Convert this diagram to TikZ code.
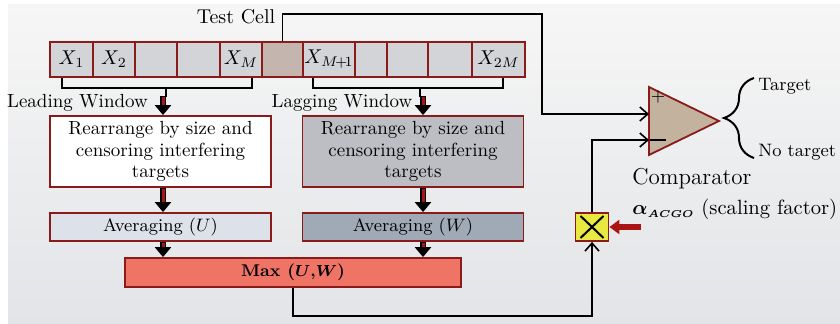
\documentclass[tikz,border=0pt]{standalone}
\usepackage{amsmath}
\usepackage{xcolor}
\usepackage{tikz}
\usetikzlibrary{arrows.meta}
\usetikzlibrary{decorations.pathreplacing}
\definecolor{dunkelrot}{RGB}{139,26,26}
\definecolor{pfeilrot}{RGB}{170,20,20}
\definecolor{zellgrau}{RGB}{210,212,216}
\definecolor{testgrau}{RGB}{196,181,175}
\definecolor{sortgrau}{RGB}{189,190,195}
\definecolor{avghell}{RGB}{221,225,234}
\definecolor{avgdunkel}{RGB}{159,170,182}
\definecolor{lachs}{RGB}{240,116,102}
\definecolor{sand}{RGB}{195,178,158}
\definecolor{gelb}{RGB}{232,232,64}
\definecolor{hgoben}{RGB}{246,246,246}
\definecolor{hgunten}{RGB}{226,228,231}
\tikzset{
  zelle/.style={draw=dunkelrot, line width=0.8pt, minimum height=17.5pt, inner sep=0pt,
    font=\fontsize{10}{12}\selectfont}, % Speicherzellen
  block/.style={draw=dunkelrot, line width=0.9pt, align=center, inner sep=0pt, minimum width=110.5pt,
    font=\fontsize{9.5}{10.8}\selectfont},
  leitung/.style={line width=0.8pt, black},
  pfeil/.style={leitung, ->},
  dickpfeil/.style={line width=3pt, black, -{Triangle[length=5pt,width=8pt]},
    postaction={draw=pfeilrot, line width=1.5pt, -, shorten >=5pt, shorten <=0.7pt}}, % roter Blockpfeil
  skalpfeil/.style={line width=2.6pt, pfeilrot, -{Triangle[length=5pt,width=7pt]}},
  mult/.style={draw=dunkelrot, fill=gelb, line width=0.9pt, minimum width=16.5pt, minimum height=14pt, inner sep=0pt,
    path picture={
      \draw[black, line width=1pt] ([shift={(2.5pt,-1.5pt)}]path picture bounding box.north west) -- ([shift={(-2.5pt,1.5pt)}]path picture bounding box.south east);
      \draw[black, line width=1pt] ([shift={(2.5pt,1.5pt)}]path picture bounding box.south west) -- ([shift={(-2.5pt,-1.5pt)}]path picture bounding box.north east);
    }}
}

\begin{document}
\begin{tikzpicture}[x=0.5pt, y=-0.5pt,
font=\fontsize{9.5}{11}\selectfont,
>={Straight Barb[length=4pt,width=7pt]} % Voreinstellung für Pfeilspitzen
]
\useasboundingbox (0,0) rectangle (840,324);

%Hintergrund
\fill[top color=hgoben, bottom color=hgunten] (8,5) rectangle (840,324);

%Zellen
\foreach \n/\l/\r/\f/\t in {1/50/93/zellgrau/{$X_1$}, 2/93/135/zellgrau/{$X_2$}, 3/135/177/zellgrau/{},
  4/177/220/zellgrau/{}, 5/220/262/zellgrau/{$X_M$}, 6/262/303/testgrau/{}, 7/303/355/zellgrau/{$X_{M\!+\!1}$},
  8/355/387/zellgrau/{}, 9/387/428/zellgrau/{}, 10/428/472/zellgrau/{}, 11/472/525/zellgrau/{$X_{2M}$}}
  \node[zelle, fill=\f, minimum width={(\r-\l)*0.5pt}] (c\n) at ({(\l+\r)/2},59.5) {\t};

\node (testzelle) at (236,17) {\normalsize Test Cell};
\node (leading) at (77.5,103) {Leading Window};
\node (lagging) at (342,103) {Lagging Window};

%Bloecke
\node[block, fill=white, minimum height=35.5pt] (sortL) at (160.5,151.5)
  {Rearrange by size and\\censoring interfering\\targets};
\node[block, fill=sortgrau, minimum height=35.5pt] (sortR) at (413,151.5)
  {Rearrange by size and\\censoring interfering\\targets};
\node[block, fill=avghell, minimum height=14pt, font=\small] (mittelL) at (160.5,227) {Averaging ($U$)};
\node[block, fill=avgdunkel, minimum height=14pt, font=\small] (mittelR) at (413,227) {Averaging ($W$)};
\node[block, fill=lachs, minimum width=168pt, minimum height=14.5pt, font=\fontsize{8.5}{10}\selectfont\bfseries] (max)
  at (293,272.5) {Max ($\boldsymbol{U{,}W}$)};

%Komparator
\draw[draw=dunkelrot, fill=sand, line width=0.9pt] (649,87) -- (719,121) coordinate (spitze) -- (649,155) -- cycle;
\coordinate (plus) at (649,114);
\coordinate (minus) at (649,140);
\node[inner sep=0pt] (plusZ) at (658,97) {$+$};
\draw[leitung] (650,140) -- (666,140);
\node[mult] (mult) at (592,227) {};
\node[anchor=west, inner sep=0pt] (ziel) at (758,86) {\fontsize{9}{11}\selectfont Target};
\node[anchor=west, inner sep=0pt] (keinziel) at (758,152) {\fontsize{9}{11}\selectfont No target};
\node[anchor=west, inner sep=0pt, font=\fontsize{11.5}{13}\selectfont] (komptext) at (632,179) {Comparator};
\node[anchor=west, inner sep=0pt, font=\fontsize{10.3}{13}\selectfont] (alpha) at (632,209)
  {$\boldsymbol{\alpha}_{\scriptscriptstyle\boldsymbol{ACGO}}$ (scaling factor)};

%Leitungen
\draw[leitung] ([xshift=-4.75pt]c1.south) -- ++(0,10) -| ([xshift=5.5pt]c5.south);
\draw[leitung] ([xshift=-8pt]c7.south) -- ++(0,10) -| ([xshift=2.25pt]c11.south);
\draw[leitung] (166,87) -- (166,97);
\draw[leitung] (420,87) -- (420,97);
\coordinate (knick) at (542,14);
\draw[pfeil] (c6.north) |- (knick) |- (plus);
\draw[pfeil] (mult.north) |- (minus);
\coordinate (unten) at (592,316);
\draw[pfeil] (max.south) |- (unten) -- (mult.south);
\coordinate (skal) at (641,227);
\draw[skalpfeil] (skal) -- (mult.east);
\draw[leitung, line width=1pt, decorate, decoration={brace, amplitude=15pt}] (754,158) -- (754,78);

%Blockpfeile
\coordinate (fensterL) at (163,96);
\coordinate (fensterR) at (423,96);
\draw[dickpfeil] (fensterL) -- (fensterL |- sortL.north);
\draw[dickpfeil] (sortL.south -| fensterL) -- (mittelL.north -| fensterL);
\draw[dickpfeil] (mittelL.south -| fensterL) -- (max.north -| fensterL);
\draw[dickpfeil] (fensterR) -- (fensterR |- sortR.north);
\draw[dickpfeil] (sortR.south -| fensterR) -- (mittelR.north -| fensterR);
\draw[dickpfeil] (mittelR.south -| fensterR) -- (max.north -| fensterR);

\end{tikzpicture}
\end{document}
